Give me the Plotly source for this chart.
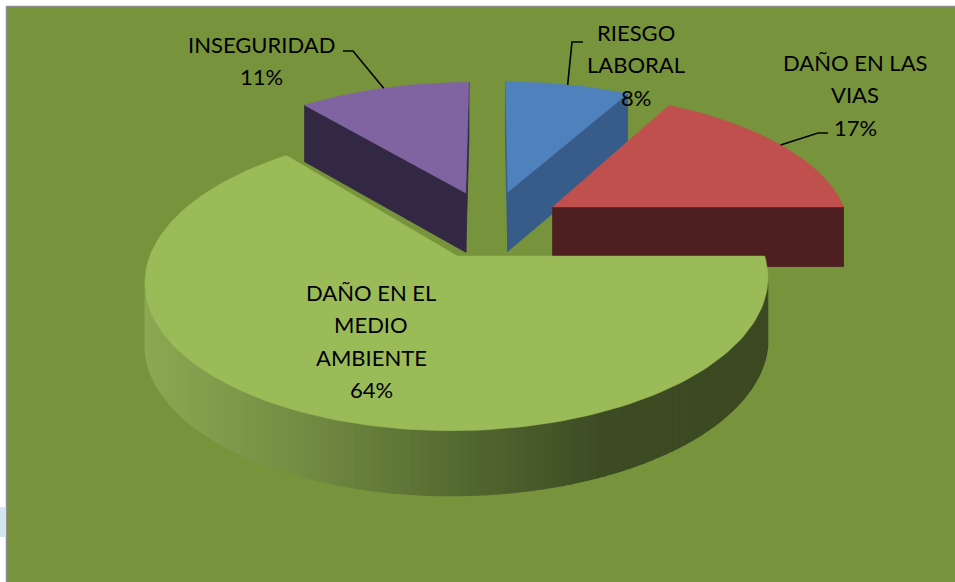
import numpy as np
import plotly.graph_objects as go

# ---------------- data ----------------
categories = ["RIESGO LABORAL", "DAÑO EN LAS VIAS", "DAÑO EN EL MEDIO AMBIENTE", "INSEGURIDAD"]
values = [8, 17, 64, 11]
label_lines = [["RIESGO", "LABORAL"], ["DAÑO EN LAS", "VIAS"],
               ["DAÑO EN EL", "MEDIO", "AMBIENTE"], ["INSEGURIDAD"]]

# ---------------- style ----------------
W, H = 955, 582
BG = "#77933C"
top_colors = ["#4F81BD", "#C0504D", "#9BBB59", "#8064A2"]
side_colors = ["#375C89", "#4D1F20", "#5A7030", "#322843"]
# gradient for the big slice's rim (screen x -> rgb)
rim_stops_x = [140, 300, 450, 600, 770]
rim_stops_rgb = [(141, 170, 84), (116, 141, 67), (86, 108, 50), (62, 76, 36), (60, 73, 34)]

CX, CY = 490, 224          # screen position of pie centre
PHI = np.radians(27.4)     # elevation
DIST = 5.73                # camera distance (pie radius = 1)
FOC = 1700                 # focal length in px
Z_PERSP = 0.4              # weaker perspective on the slice thickness
EXPLODE = 0.25
THICK = 0.228

label_pos = [(636, 40), (855, 70), (371, 300), (261, 52)]   # centre x, first baseline
LINE_STEP = 32.5
leader_start = [(583, 42), (828, 133), None, (343, 51)]
leader_elbow = [-11, -10, None, 10]
FONT = dict(family="Lato, Carlito, Calibri, sans-serif", size=22, color="black")

cam = np.array([0.0, -DIST * np.cos(PHI), DIST * np.sin(PHI)])


def proj(x, y, z):
    x, y, z = np.asarray(x, float), np.asarray(y, float), np.asarray(z, float)
    depth = DIST + y * np.cos(PHI)
    depth_z = DIST + Z_PERSP * y * np.cos(PHI)
    sx = CX + FOC * x / depth
    sy = CY - FOC * y * np.sin(PHI) / depth - FOC * z * np.cos(PHI) / depth_z
    return sx, sy


def rim_color(x):
    r = np.interp(x, rim_stops_x, [c[0] for c in rim_stops_rgb])
    g = np.interp(x, rim_stops_x, [c[1] for c in rim_stops_rgb])
    b = np.interp(x, rim_stops_x, [c[2] for c in rim_stops_rgb])
    return f"rgb({int(r)},{int(g)},{int(b)})"


def poly(xs, ys, color, lw=0.8, hover=None):
    xs = list(xs) + [xs[0]]
    ys = list(ys) + [ys[0]]
    return go.Scatter(x=xs, y=ys, mode="lines", fill="toself", fillcolor=color,
                      line=dict(color=color, width=lw), showlegend=False,
                      hoverinfo="text" if hover else "skip", text=hover,
                      hoveron="fills" if hover else None)


total = sum(values)
fracs = [v / total for v in values]
starts = np.concatenate([[0], np.cumsum(fracs)[:-1]]) * 2 * np.pi
ends = np.cumsum(fracs) * 2 * np.pi

slices = []
for i in range(len(values)):
    a0, a1 = starts[i], ends[i]
    mid = (a0 + a1) / 2
    ox, oy = EXPLODE * np.sin(mid), EXPLODE * np.cos(mid)
    slices.append((i, a0, a1, mid, ox, oy))

order = sorted(slices, key=lambda s: -s[5])

traces = []
for (i, a0, a1, mid, ox, oy) in order:
    n = max(6, int(np.degrees(a1 - a0) / 1.5))
    th = np.linspace(a0, a1, n + 1)
    apex = np.array([ox, oy, 0.0])
    # cut faces
    for a, nrm in ((a0, np.array([-np.cos(a0), np.sin(a0), 0])),
                   (a1, np.array([np.cos(a1), -np.sin(a1), 0]))):
        if nrm.dot(cam - apex) > 0:
            px = [ox, ox + np.sin(a), ox + np.sin(a), ox]
            py = [oy, oy + np.cos(a), oy + np.cos(a), oy]
            pz = [0, 0, -THICK, -THICK]
            sx, sy = proj(px, py, pz)
            traces.append(poly(sx, sy, side_colors[i]))
    # outer rim
    for j in range(n):
        tm = (th[j] + th[j + 1]) / 2
        nrm = np.array([np.sin(tm), np.cos(tm), 0])
        P = np.array([ox + np.sin(tm), oy + np.cos(tm), 0])
        if nrm.dot(cam - P) > 0:
            px = [ox + np.sin(th[j]), ox + np.sin(th[j + 1]), ox + np.sin(th[j + 1]), ox + np.sin(th[j])]
            py = [oy + np.cos(th[j]), oy + np.cos(th[j + 1]), oy + np.cos(th[j + 1]), oy + np.cos(th[j])]
            pz = [0, 0, -THICK, -THICK]
            sx, sy = proj(px, py, pz)
            col = rim_color(np.mean(sx)) if i == 2 else side_colors[i]
            traces.append(poly(sx, sy, col, lw=1.2))
    # top face
    px = np.concatenate([[ox], ox + np.sin(th)])
    py = np.concatenate([[oy], oy + np.cos(th)])
    sx, sy = proj(px, py, np.zeros_like(px))
    traces.append(poly(sx, sy, top_colors[i], lw=0.5,
                       hover=f"{categories[i]}: {values[i]}%"))

fig = go.Figure(traces)

annotations = []
for i in range(len(values)):
    lines = label_lines[i] + [f"{values[i]}%"]
    lx, ly = label_pos[i]
    for k, t in enumerate(lines):
        annotations.append(dict(x=lx, y=ly + k * LINE_STEP - 8, xref="x", yref="y",
                                text=t, showarrow=False, font=FONT,
                                xanchor="center", yanchor="middle"))
    if leader_start[i] is not None:
        (i_, a0, a1, mid, ox, oy) = slices[i]
        ex, ey = proj(ox + np.sin(mid), oy + np.cos(mid), 0.0)
        sx0, sy0 = leader_start[i]
        fig.add_trace(go.Scatter(x=[sx0, sx0 + leader_elbow[i], float(ex)],
                                 y=[sy0, sy0, float(ey)], mode="lines",
                                 line=dict(color="black", width=1.6),
                                 showlegend=False, hoverinfo="skip"))

shapes = [
    dict(type="rect", xref="x", yref="y", x0=7, y0=6, x1=W + 2, y1=H + 2,
         fillcolor=BG, line=dict(width=0), layer="below"),
    dict(type="line", xref="x", yref="y", x0=6.5, y0=6, x1=6.5, y1=H + 2,
         line=dict(color="#8E8E8E", width=1.5), layer="below"),
    dict(type="line", xref="x", yref="y", x0=6, y0=6.5, x1=W + 2, y1=6.5,
         line=dict(color="#8E8E8E", width=1.5), layer="below"),
    dict(type="rect", xref="x", yref="y", x0=0, y0=507, x1=5.8, y1=537,
         fillcolor="#D3E6EF", line=dict(width=0), layer="below"),
]

fig.update_layout(
    width=W, height=H, margin=dict(l=0, r=0, t=0, b=0),
    paper_bgcolor="white", plot_bgcolor="white",
    xaxis=dict(range=[0, W], visible=False, fixedrange=True),
    yaxis=dict(range=[H, 0], visible=False, fixedrange=True),
    annotations=annotations, shapes=shapes, showlegend=False,
)

fig.write_html(
    "out.html",
    config={"displayModeBar": False},
    post_script=("document.body.style.margin='0';"
                 "document.body.style.overflow='hidden';"
                 "document.documentElement.style.overflow='hidden';"),
)
